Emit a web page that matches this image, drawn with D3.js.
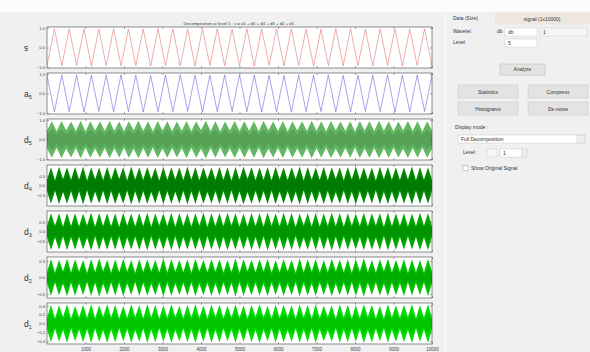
<!DOCTYPE html>
<html><head><meta charset="utf-8">
<script src="https://cdn.jsdelivr.net/npm/d3@7"></script>
<style>
body{margin:0;background:#f0f0f0}
svg{display:block}
text{font-family:"Liberation Sans",Arial,sans-serif}
</style>
</head><body>
<svg id="c" width="590" height="352"></svg>
<script>
// ---------- data ----------
const nSamples = 10000;
const xTicks = [1000,2000,3000,4000,5000,6000,7000,8000,9000,10000];
const panelNames = ["s","a5","d5","d4","d3","d2","d1"];
const titleText = "Decomposition at level 5 : s = a5 + d5 + d4 + d3 + d2 + d1 .";

// triangle-wave vertices (alternating troughs / peaks)
const sVertices = [-0.93,0.95,-0.94,0.96,-0.92,0.95,-0.95,0.94,-0.93,0.96,-0.94,0.95,-0.92,0.94,-0.95,0.96,-0.93,0.95,-0.94,0.93,-0.95,0.96,-0.92,0.95,-0.94,0.94,-0.93,0.96,-0.95,0.95,-0.92,0.94,-0.94,0.96,-0.93,0.95,-0.95,0.93,-0.92,0.96,-0.94,0.95,-0.93,0.94,-0.95,0.96,-0.92,0.95,-0.94,0.94,-0.93,0.96,-0.95];
const a5Vertices = [0.92,-0.94,0.95,-0.93,0.94,-0.95,0.93,-0.92,0.95,-0.94,0.96,-0.93,0.94,-0.95,0.92,-0.94,0.95,-0.93,0.96,-0.92,0.94,-0.95,0.93,-0.94,0.95,-0.92,0.96,-0.93,0.94,-0.95,0.93,-0.94,0.92,-0.96,0.95,-0.93,0.94,-0.92,0.96,-0.95,0.93,-0.94,0.95,-0.92,0.94,-0.93,0.96,-0.95,0.93,-0.94,0.95,-0.92,0.94];

// detail envelopes: beat peaks and beat nodes (upper envelope)
const d5Peaks = [0.93,0.95,0.92,0.96,0.94,0.93,0.95,0.92,0.94,0.96,0.93,0.95,0.94,0.92,0.95,0.93,0.96,0.94,0.92,0.95,0.93,0.94,0.96,0.92,0.95,0.93,0.94,0.96,0.93,0.95,0.92,0.94,0.95,0.93,0.96,0.94,0.92,0.95,0.93,0.94];
const d5Nodes = [0.45,0.42,0.47,0.44,0.41,0.46,0.43,0.45,0.42,0.47,0.44,0.41,0.46,0.43,0.45,0.42,0.47,0.44,0.41,0.46,0.43,0.45,0.42,0.47,0.44,0.41,0.46,0.43,0.45,0.42,0.47,0.44,0.41,0.46,0.43,0.45,0.42,0.47,0.44,0.41,0.46];
const d4Peaks = [0.94,0.96,0.93,0.95,0.97,0.94,0.92,0.96,0.95,0.93,0.97,0.94,0.95,0.92,0.96,0.94,0.93,0.97,0.95,0.94,0.92,0.96,0.93,0.95,0.97,0.94,0.92,0.95,0.96,0.93,0.94,0.97,0.95,0.92,0.96,0.94,0.93,0.95,0.97,0.94,0.92,0.96,0.95,0.93,0.94,0.97,0.95,0.93];
const d4Nodes = [0.30,0.27,0.33,0.29,0.31,0.26,0.32,0.28,0.30,0.34,0.27,0.31,0.29,0.33,0.26,0.30,0.32,0.28,0.31,0.27,0.33,0.29,0.30,0.26,0.31,0.34,0.28,0.30,0.27,0.32,0.29,0.33,0.26,0.31,0.30,0.28,0.34,0.27,0.32,0.29,0.30,0.26,0.33,0.31,0.28,0.32,0.27,0.30,0.29];
const d3Peaks = [0.95,0.93,0.96,0.94,0.92,0.97,0.95,0.93,0.94,0.96,0.92,0.95,0.97,0.93,0.94,0.96,0.95,0.92,0.94,0.97,0.93,0.95,0.96,0.94,0.92,0.95,0.93,0.97,0.94,0.96,0.95,0.92,0.93,0.96,0.94,0.97,0.95,0.93,0.92,0.96,0.94,0.95,0.97,0.93,0.94,0.92,0.96,0.95];
const d3Nodes = [0.28,0.31,0.25,0.29,0.27,0.32,0.26,0.30,0.28,0.24,0.31,0.27,0.29,0.25,0.32,0.28,0.26,0.30,0.27,0.31,0.24,0.29,0.28,0.32,0.26,0.27,0.30,0.25,0.31,0.28,0.29,0.24,0.32,0.27,0.26,0.30,0.28,0.25,0.31,0.29,0.27,0.32,0.24,0.28,0.30,0.26,0.29,0.31,0.27];
const d2Peaks = [0.56,0.54,0.57,0.55,0.53,0.56,0.58,0.54,0.55,0.57,0.53,0.56,0.55,0.54,0.58,0.56,0.53,0.55,0.57,0.54,0.56,0.55,0.53,0.58,0.56,0.54,0.55,0.57,0.53,0.56,0.54,0.58,0.55,0.56,0.53,0.57,0.54,0.55,0.56,0.58,0.53,0.55,0.57,0.54,0.56,0.55,0.53,0.57];
const d2Nodes = [0.17,0.15,0.19,0.16,0.18,0.14,0.17,0.19,0.15,0.16,0.18,0.14,0.17,0.19,0.16,0.15,0.18,0.17,0.14,0.19,0.16,0.18,0.15,0.17,0.14,0.19,0.16,0.18,0.15,0.17,0.19,0.14,0.16,0.18,0.15,0.17,0.19,0.16,0.14,0.18,0.17,0.15,0.19,0.16,0.18,0.14,0.17,0.15,0.18];
const d1Peaks = [0.42,0.41,0.43,0.40,0.42,0.44,0.41,0.43,0.42,0.40,0.43,0.41,0.44,0.42,0.41,0.43,0.40,0.42,0.44,0.41,0.43,0.42,0.40,0.43,0.41,0.42,0.44,0.40,0.43,0.42,0.41,0.43,0.42,0.44,0.40,0.41,0.43,0.42,0.41,0.44,0.42,0.40,0.43,0.41,0.42,0.44,0.41,0.43];
const d1Nodes = [0.13,0.12,0.15,0.11,0.14,0.13,0.12,0.15,0.14,0.11,0.13,0.15,0.12,0.14,0.11,0.13,0.15,0.12,0.14,0.13,0.11,0.15,0.12,0.14,0.13,0.11,0.15,0.14,0.12,0.13,0.15,0.11,0.14,0.12,0.13,0.15,0.11,0.14,0.12,0.13,0.15,0.12,0.11,0.14,0.13,0.15,0.12,0.14,0.13];

const yDomains = [[-1.05,1.05],[-1.05,1.05],[-1.05,1.05],[-1.05,1.05],[-1.05,1.05],[-0.62,0.62],[-0.46,0.46]];
const yTickVals = [[-1,0,1],[-1,0,1],[-1,0,1],[-0.5,0,0.5],[-0.5,0,0.5],[-0.5,0,0.5],[-0.4,-0.2,0,0.2,0.4]];

// ---------- drawing ----------
const W = 590, H = 352;
const svg = d3.select("#c");
svg.append("rect").attr("width",W).attr("height",H).attr("fill","#f0f0f0");
svg.append("rect").attr("width",W).attr("height",12).attr("fill","#fbfbfb");

const plotLeft = 47, plotRight = 432, firstTop = 27, panelH = 41, panelStep = 46;
const x = d3.scaleLinear().domain([0, nSamples]).range([plotLeft, plotRight]);

const panels = [
  {name:"s",  kind:"line", vals:sVertices,  color:"#e06a6a"},
  {name:"a5", kind:"line", vals:a5Vertices, color:"#5a5ae0"},
  {name:"d5", kind:"env", peaks:d5Peaks, nodes:d5Nodes, color:"#62b862"},
  {name:"d4", kind:"env", peaks:d4Peaks, nodes:d4Nodes, color:"#008a00"},
  {name:"d3", kind:"env", peaks:d3Peaks, nodes:d3Nodes, color:"#00a800"},
  {name:"d2", kind:"env", peaks:d2Peaks, nodes:d2Nodes, color:"#00c400"},
  {name:"d1", kind:"env", peaks:d1Peaks, nodes:d1Nodes, color:"#00de00"}
];

const defs = svg.append("defs");

panels.forEach((p, k) => {
  const top = firstTop + k * panelStep;
  const y = d3.scaleLinear().domain(yDomains[k]).range([top + panelH, top]);
  const g = svg.append("g");
  g.append("rect").attr("x",plotLeft).attr("y",top).attr("width",plotRight-plotLeft).attr("height",panelH).attr("fill","#fff");
  const cid = "clip"+k;
  defs.append("clipPath").attr("id",cid).append("rect")
    .attr("x",plotLeft).attr("y",top).attr("width",plotRight-plotLeft).attr("height",panelH);
  const cg = g.append("g").attr("clip-path","url(#"+cid+")");

  if (p.kind === "line") {
    const step = nSamples / (p.vals.length - 1);
    const pts = p.vals.map((v,i) => [i*step, v]);
    cg.append("path").datum(pts)
      .attr("d", d3.line().x(d=>x(d[0])).y(d=>y(d[1])))
      .attr("fill","none").attr("stroke",p.color).attr("stroke-width",0.55);
  } else {
    const beat = nSamples / p.peaks.length;
    const env = [];
    p.nodes.forEach((nv,i) => {
      env.push([i*beat, nv]);
      if (i < p.peaks.length) env.push([(i+0.5)*beat, p.peaks[i]]);
    });
    cg.append("path").datum(env)
      .attr("d", d3.area().x(d=>x(d[0])).y0(d=>y(-d[1])).y1(d=>y(d[1])))
      .attr("fill",p.color);
    cg.append("path").datum(env)
      .attr("d", d3.area().x(d=>x(d[0])).y0(d=>y(-d[1]*0.55)).y1(d=>y(d[1]*0.55)))
      .attr("fill",d3.color(p.color).darker(0.35));
  }

  const last = k === panels.length - 1;
  const bx = d3.axisBottom(x).tickValues(xTicks).tickSizeInner(-2).tickSizeOuter(0)
    .tickFormat(last ? d3.format("d") : "").tickPadding(4);
  const gb = g.append("g").attr("transform","translate(0,"+(top+panelH)+")").call(bx);
  const tx = d3.axisTop(x).tickValues(xTicks).tickSizeInner(-2).tickSizeOuter(0).tickFormat("");
  const gt = g.append("g").attr("transform","translate(0,"+top+")").call(tx);
  const ly = d3.axisLeft(y).tickValues(yTickVals[k]).tickSizeInner(-2).tickSizeOuter(0).tickPadding(2);
  const gl = g.append("g").attr("transform","translate("+plotLeft+",0)").call(ly);
  const ry = d3.axisRight(y).tickValues(yTickVals[k]).tickSizeInner(-2).tickSizeOuter(0).tickFormat("");
  const gr = g.append("g").attr("transform","translate("+plotRight+",0)").call(ry);
  [gb,gt,gl,gr].forEach(a => {
    a.select(".domain").remove();
    a.selectAll(".tick line").attr("stroke","#555").attr("stroke-width",0.5);
    a.selectAll("text").attr("font-size",4.2).attr("fill","#444");
  });
  gb.selectAll("text").attr("font-size",4.5);

  g.append("rect").attr("x",plotLeft).attr("y",top).attr("width",plotRight-plotLeft).attr("height",panelH)
    .attr("fill","none").attr("stroke","#444").attr("stroke-width",0.6);

  const lbl = g.append("text").attr("x",24).attr("y",top+panelH/2+3).attr("font-size",8.5)
    .attr("fill","#333");
  lbl.append("tspan").text(p.name[0]);
  if (p.name.length > 1) lbl.append("tspan").attr("dy",2.5).attr("font-size",5.5).text(p.name.slice(1));
});

svg.append("text").attr("x",240).attr("y",24.5).attr("text-anchor","middle")
  .attr("font-size",4.3).attr("fill","#333").text(titleText);

// ---------- right control panel ----------
svg.append("line").attr("x1",445.5).attr("x2",445.5).attr("y1",12).attr("y2",H)
  .attr("stroke","#fafafa").attr("stroke-width",1.5);
const ui = svg.append("g");
function txt(xp, yp, s, anchor){ ui.append("text").attr("x",xp).attr("y",yp).attr("text-anchor",anchor||"start").attr("font-size",5).attr("fill","#333").text(s); }
function box(xp, yp, w, h, fill, stroke){ ui.append("rect").attr("x",xp).attr("y",yp).attr("width",w).attr("height",h).attr("fill",fill).attr("stroke",stroke||"none").attr("stroke-width",0.5); }

txt(453, 20, "Data (Size)");
box(495, 12.5, 95, 12, "#efe7df");
txt(542, 20.5, "signal (1x10000)", "middle");

txt(453, 33, "Wavelet");
txt(497, 33, "db");
box(505, 28, 32, 8, "#fff", "#ccc");
box(540, 28, 47, 8, "#f6f6f6", "#ccc");
txt(508, 34, "db");
txt(543, 34, "1");
txt(453, 44, "Level");
box(505, 39, 32, 8, "#fff", "#ccc");
txt(508, 45, "5");

box(500, 64, 45, 11, "#e3e3e3", "#b5b5b5");
txt(522.5, 71.3, "Analyze", "middle");

[["Statistics",458,85],["Compress",528,85],["Histograms",458,102],["De-noise",528,102]].forEach(b => {
  box(b[1], b[2], 60, 13, "#e3e3e3", "#c4c4c4");
  txt(b[1]+30, b[2]+8.5, b[0], "middle");
});

txt(455, 129, "Display mode :");
box(458, 135, 127, 8, "#fff", "#c8c8c8");
txt(461, 141, "Full Decomposition");
box(577, 135, 8, 8, "#eee", "#c8c8c8");

txt(463, 154, "Level :");
box(487, 149, 10, 8, "#f6f6f6", "#c8c8c8");
box(500, 149, 22, 8, "#fff", "#c8c8c8");
txt(503, 155, "1");
box(522, 149, 5, 8, "#eee", "#c8c8c8");

box(463, 165.5, 5, 5, "#fff", "#999");
txt(471, 170, "Show Original Signal");
</script>
</body></html>
